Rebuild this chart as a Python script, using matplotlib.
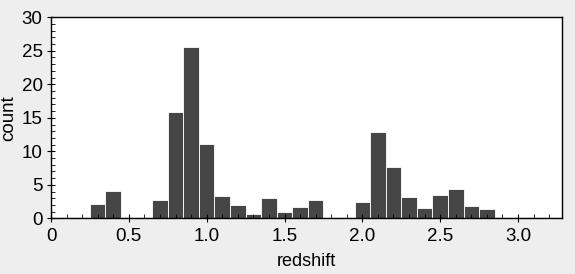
import numpy as np
import matplotlib
matplotlib.use('Agg')
import matplotlib.pyplot as plt
from matplotlib.ticker import MultipleLocator, FuncFormatter

# histogram bins (left edges, width 0.1) and counts
binLeft = [0.05, 0.15, 0.25, 0.35, 0.45, 0.55, 0.65, 0.75, 0.85, 0.95,
           1.05, 1.15, 1.25, 1.35, 1.45, 1.55, 1.65, 1.75, 1.85, 1.95,
           2.05, 2.15, 2.25, 2.35, 2.45, 2.55, 2.65, 2.75, 2.85, 2.95,
           3.05, 3.15, 3.25]
counts = [0.25, 0.25, 2.2, 4.1, 0.25, 0.25, 2.8, 15.9, 25.6, 11.1,
          3.4, 2.0, 0.7, 3.0, 1.0, 1.7, 2.7, 0.25, 0.25, 2.5,
          12.9, 7.6, 3.2, 1.6, 3.5, 4.4, 1.9, 1.4, 0.25, 0.25,
          0.25, 0.25, 0.25]
xTicks = [0, 0.5, 1.0, 1.5, 2.0, 2.5, 3.0]
yTicks = [0, 5, 10, 15, 20, 25, 30]

def main():
    plt.rcParams['font.family'] = ['Liberation Sans', 'DejaVu Sans']

    fig = plt.figure(figsize=(5.75, 2.74), dpi=100, facecolor='#eeeeee')
    ax = fig.add_axes([0.0887, 0.203, 0.888, 0.734])
    ax.set_facecolor('white')

    ax.bar(binLeft, counts, width=0.1, align='edge', color='#464646',
           edgecolor='white', linewidth=0.6)

    ax.set_xlim(0, 3.28)
    ax.set_ylim(0, 30)
    ax.set_xticks(xTicks)
    ax.set_yticks(yTicks)
    ax.xaxis.set_major_formatter(FuncFormatter(lambda v, p: '0' if v == 0 else '%.1f' % v))
    ax.xaxis.set_minor_locator(MultipleLocator(0.1))
    ax.yaxis.set_minor_locator(MultipleLocator(1))

    ax.tick_params(which='major', direction='inout', length=6, width=0.8,
                   labelsize=13.5, colors='black', pad=3)
    ax.tick_params(axis='x', which='major', pad=4)
    ax.tick_params(which='minor', direction='in', length=3, width=0.6)
    for s in ax.spines.values():
        s.set_color('black')
        s.set_linewidth(1)

    ax.set_xlabel('redshift', fontsize=13, labelpad=6)
    ax.set_ylabel('count', fontsize=13.5, labelpad=3)

    fig.savefig('out.png', dpi=100, facecolor=fig.get_facecolor())

if __name__ == "__main__":
    main()
